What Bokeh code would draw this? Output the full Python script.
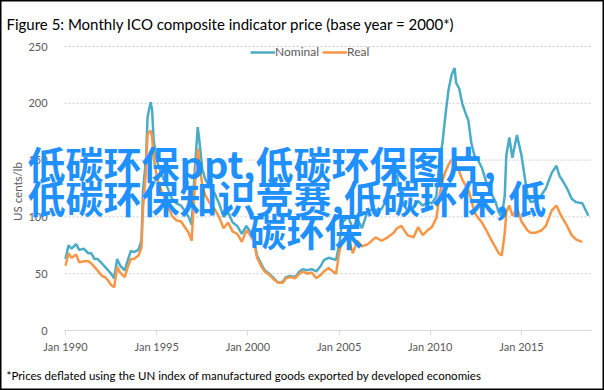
import math
from bokeh.plotting import figure
from bokeh.models import Range1d, FixedTicker, Label, Legend, LegendItem
from bokeh.embed import file_html
from bokeh.resources import INLINE

months = ["1990-01", "1990-03", "1990-05", "1990-08", "1990-10", "1991-01", "1991-04", "1991-06",
          "1991-08", "1991-10", "1992-01", "1992-03", "1992-05", "1992-07", "1992-09", "1992-11",
          "1993-01", "1993-04", "1993-06", "1993-08", "1993-10", "1994-01", "1994-03", "1994-04",
          "1994-06", "1994-07", "1994-09", "1994-10", "1994-11", "1995-01", "1995-03", "1995-05",
          "1995-08", "1995-11", "1996-02", "1996-05", "1996-08", "1996-10", "1996-12", "1997-02",
          "1997-04", "1997-05", "1997-07", "1997-09", "1997-12", "1998-03", "1998-06", "1998-09",
          "1998-12", "1999-03", "1999-06", "1999-09", "1999-12", "2000-02", "2000-05", "2000-07",
          "2000-10", "2000-12", "2001-03", "2001-06", "2001-09", "2001-12", "2002-02", "2002-05",
          "2002-08", "2002-11", "2003-01", "2003-04", "2003-07", "2003-10",
          "2004-01", "2004-03", "2004-06", "2004-09", "2004-11", "2005-01", "2005-03", "2005-07",
          "2005-10", "2006-01", "2006-04", "2006-08", "2007-01", "2007-05", "2007-09", "2008-01",
          "2008-03", "2008-06", "2008-10", "2009-02", "2009-05", "2009-08", "2009-11", "2010-02",
          "2010-05", "2010-07", "2010-09", "2010-11",
          "2011-01", "2011-03", "2011-05", "2011-06", "2011-08", "2011-10", "2011-12", "2012-02",
          "2012-04", "2012-06", "2012-08", "2012-11", "2013-02", "2013-05", "2013-08", "2013-10",
          "2013-12", "2014-02", "2014-03", "2014-05", "2014-07", "2014-10", "2015-01", "2015-03",
          "2015-05", "2015-07", "2015-10", "2016-02", "2016-05", "2016-07", "2016-09", "2016-12",
          "2017-02", "2017-04", "2017-07", "2017-10", "2018-01", "2018-05", "2018-09"]

nominal = [63, 75, 72, 76, 71, 72, 68, 68,
           63, 63, 59, 56, 53, 50, 46, 63,
           57, 53, 62, 70, 69, 71, 79, 123,
           152, 188, 201, 194, 167, 150, 142, 135,
           126, 116, 112, 110, 104, 100, 93, 140,
           179, 168, 142, 133, 126, 121, 112, 100,
           104, 95, 92, 85, 92, 88, 80, 66,
           58, 53, 50, 46, 42, 43, 47, 48,
           47, 52, 54, 53, 54, 52,
           57, 62, 64, 63, 62, 75, 95, 100,
           90, 98, 90, 106, 106, 107, 118, 132,
           137, 115, 105, 108, 114, 110, 113, 112,
           118, 150, 165, 190,
           212, 225, 231, 218, 213, 200, 192, 185,
           165, 154, 151, 143, 130, 121, 113, 104,
           100, 119, 154, 170, 152, 172, 154, 136,
           119, 113, 114, 119, 125, 132, 139, 145,
           136, 132, 125, 116, 113, 112, 101]

real = [57, 68, 64, 67, 60, 61, 61, 59,
        56, 53, 48, 47, 44, 40, 38, 56,
        51, 47, 56, 63, 63, 66, 73, 108,
        141, 173, 176, 170, 152, 136, 127, 120,
        111, 101, 97, 96, 90, 86, 79, 125,
        160, 150, 127, 119, 112, 107, 100, 90,
        95, 87, 85, 78, 88, 85, 78, 64,
        56, 52, 49, 45, 42, 42, 46, 47,
        46, 50, 52, 50, 51, 46,
        49, 52, 55, 52, 50, 68, 79, 82,
        68, 79, 74, 76, 82, 79, 82, 86,
        90, 92, 84, 82, 91, 84, 88, 91,
        99, 118, 132, 140,
        146, 150, 151, 145, 140, 133, 128, 124,
        115, 104, 100, 95, 88, 80, 73, 68,
        66, 86, 104, 110, 101, 108, 96, 92,
        88, 86, 86, 88, 92, 99, 106, 110,
        104, 99, 92, 84, 80, 78]

x_tick_years = [1990, 1995, 2000, 2005, 2010, 2015]
x_tick_labels = ["Jan 1990", "Jan 1995", "Jan 2000", "Jan 2005", "Jan 2010", "Jan 2015"]
y_ticks = [0, 50, 100, 150, 200, 250]
series_names = ["Nominal", "Real"]

title_text = "Figure 5: Monthly  ICO composite indicator price (base year = 2000*)"
footnote_text = "*Prices deflated using the UN index of manufactured goods exported by developed economies"
y_label_text = "US cents/lb"
overlay_lines = ["低碳环保ppt,低碳环保图片,", "低碳环保知识竞赛,低碳环保,低", "碳环保"]


def to_year(s):
    y, m = s.split("-")
    return int(y) + (int(m) - 1) / 12.0


xs = [to_year(m) for m in months]

W, H = 604, 390
FONT = "Lato"
GREY = "#595959"

# data area: Jan 1990 at x=65 px, 18.24 px per year; 0 at y=330 px, 1.136 px per unit
PX_YEAR = 18.24
PX_UNIT = 1.136
x0 = 1990 - 65 / PX_YEAR
x1 = x0 + W / PX_YEAR
y1 = 250 + 46 / PX_UNIT
y0 = -(H - 330) / PX_UNIT
AX_START, AX_END = 1989.95, 2018.84

p = figure(width=W, height=H, output_backend="svg", toolbar_location=None,
           x_range=Range1d(x0, x1), y_range=Range1d(y0, y1),
           min_border_left=0, min_border_right=0, min_border_top=0, min_border_bottom=0)
p.title.visible = False
p.outline_line_color = "black"
p.outline_line_width = 2
p.background_fill_color = "white"
p.border_fill_color = "white"

# y axis (inside the canvas)
p.yaxis.fixed_location = AX_START
p.yaxis.bounds = (0, 250)
p.yaxis.ticker = FixedTicker(ticks=y_ticks)
p.yaxis.axis_line_color = None
p.yaxis.major_tick_line_color = None
p.yaxis.minor_tick_line_color = None
p.yaxis.major_label_standoff = 11
p.yaxis.major_label_text_font = FONT
p.yaxis.major_label_text_font_size = "11px"
p.yaxis.major_label_text_color = GREY

# x axis
p.xaxis.fixed_location = 0
p.xaxis.bounds = (AX_START, AX_END)
p.xaxis.ticker = FixedTicker(ticks=x_tick_years)
p.xaxis.major_label_overrides = {yr: lab for yr, lab in zip(x_tick_years, x_tick_labels)}
p.xaxis.axis_line_color = "#d9d9d9"
p.xaxis.axis_line_width = 1
p.xaxis.major_tick_line_color = "#d9d9d9"
p.xaxis.major_tick_out = 5
p.xaxis.major_tick_in = 0
p.xaxis.minor_tick_line_color = None
p.xaxis.major_label_standoff = 4
p.xaxis.major_label_text_font = FONT
p.xaxis.major_label_text_font_size = "11px"
p.xaxis.major_label_text_color = GREY

# dotted horizontal gridlines limited to the plot area
p.xgrid.visible = False
p.ygrid.visible = False
grid_vals = y_ticks[1:]
p.segment(x0=[AX_START] * len(grid_vals), x1=[AX_END] * len(grid_vals),
          y0=grid_vals, y1=grid_vals, line_color="#c8c8c8", line_dash="2 2", line_width=1)

r_nom = p.line(xs, nominal, line_color="#4BACC6", line_width=2.5)
r_real = p.line(xs[:len(real)], real, line_color="#F79646", line_width=2.5)

legend = Legend(items=[LegendItem(label=series_names[0], renderers=[r_nom]),
                       LegendItem(label=series_names[1], renderers=[r_real])],
                orientation="horizontal", location=(250, 331),
                glyph_width=25, glyph_height=10, label_height=10, label_standoff=0,
                spacing=3, padding=0, margin=0,
                border_line_color=None, background_fill_alpha=0,
                label_text_font=FONT, label_text_font_size="12px", label_text_color=GREY)
p.add_layout(legend)

# texts (screen units, y measured from the bottom of the canvas)
p.add_layout(Label(x=6, y=H - 23, x_units="screen", y_units="screen", text=title_text,
                   text_font=FONT, text_font_size="15px", text_color="#000000",
                   text_baseline="middle", text_align="left"))
p.add_layout(Label(x=6, y=H - 375, x_units="screen", y_units="screen", text=footnote_text,
                   text_font=FONT, text_font_size="11.5px", text_color="#000000",
                   text_baseline="middle", text_align="left"))
p.add_layout(Label(x=17, y=H - 191, x_units="screen", y_units="screen", text=y_label_text,
                   angle=math.pi / 2, text_font=FONT, text_font_size="11.5px", text_color=GREY,
                   text_baseline="middle", text_align="center"))

overlay_pos = [(27, H - 162), (27, H - 196), (248, H - 229)]
for t, (sx, sy) in zip(overlay_lines, overlay_pos):
    p.add_layout(Label(x=sx, y=sy, x_units="screen", y_units="screen", text=t,
                       text_font="Noto Sans CJK SC", text_font_size="38px",
                       text_font_style="bold", text_color="#1E90FF",
                       text_baseline="middle", text_align="left"))

open("out.html", "w").write(file_html(p, INLINE))
